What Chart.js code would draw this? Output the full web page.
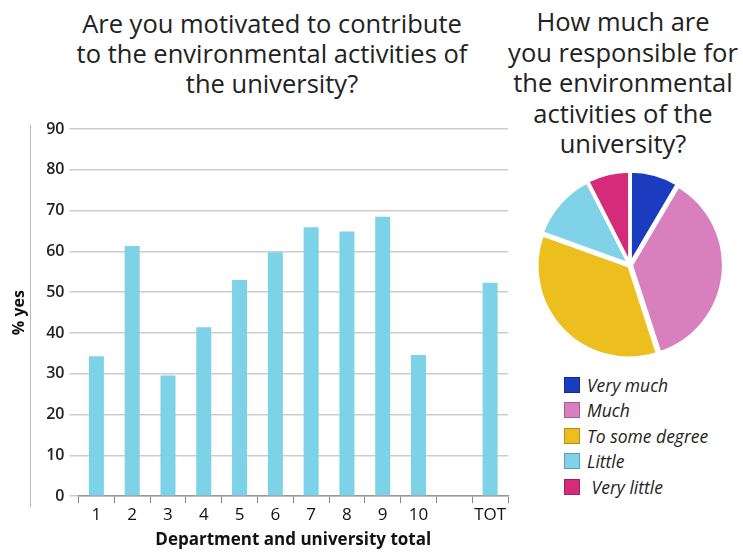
<!DOCTYPE html>
<html>
<head>
<meta charset="utf-8">
<script src="https://cdn.jsdelivr.net/npm/chart.js@4"></script>
<style>
  body { margin: 0; background: #fff; width: 743px; height: 554px; position: relative; overflow: hidden; font-family: "Open Sans", sans-serif; color: #222; }
  .title { position: absolute; text-align: center; font-size: 25.5px; }
  #barTitle { left: 62px; width: 420px; top: 8px; line-height: 30px; }
  #pieTitle { left: 498px; width: 250px; top: 6px; line-height: 30.5px; }
  #barWrap { position: absolute; left: 0; top: 110px; width: 520px; height: 444px; }
  #pieWrap { position: absolute; left: 534px; top: 165px; width: 192px; height: 200px; }
  #sideLine { position: absolute; left: 30px; top: 125px; width: 1px; height: 382px; background: #bbb; }
  #legend { position: absolute; left: 564px; top: 372px; list-style: none; margin: 0; padding: 0; }
  #legend li { height: 25.5px; font-size: 17.5px; font-style: italic; display: flex; align-items: center; }
  #legend span.box { display: inline-block; width: 16px; height: 16px; margin-right: 7px; box-sizing: border-box; border: 1px solid rgba(0,0,0,0.25); }
</style>
</head>
<body>
<div id="barTitle" class="title">Are you motivated to contribute<br>to the environmental activities of<br>the university?</div>
<div id="pieTitle" class="title">How much are<br>you responsible for<br>the environmental<br>activities of the<br>university?</div>
<div id="sideLine"></div>
<div id="barWrap"><canvas id="barChart"></canvas></div>
<div id="pieWrap"><canvas id="pieChart"></canvas></div>
<ul id="legend"></ul>
<script>
// bar chart: % yes per department, empty slot before the total
const departments = ['1', '2', '3', '4', '5', '6', '7', '8', '9', '10', '', 'TOT'];
const yesPercent = [34.3, 61.3, 29.6, 41.4, 53.0, 59.8, 65.9, 64.9, 68.5, 34.6, null, 52.3];
const yTicks = [0, 10, 20, 30, 40, 50, 60, 70, 80, 90];

// pie chart: level of responsibility
const levels = ['Very much', 'Much', 'To some degree', 'Little', ' Very little'];
const levelShare = [8.5, 36.5, 35.5, 12, 7.5];
const levelColors = ['#1b3cbf', '#d880bd', '#ecbf1e', '#80d2e8', '#d42c78'];

new Chart(document.getElementById('barChart'), {
    type: 'bar',
    data: {
        labels: departments,
        datasets: [{
            data: yesPercent,
            backgroundColor: 'rgb(125, 210, 232)',
            categoryPercentage: 1,
            barPercentage: 0.42
        }]
    },
    options: {
        responsive: true,
        maintainAspectRatio: false,
        animation: false,
        layout: { padding: { left: 6, right: 12, top: 19, bottom: 0 } },
        plugins: { legend: { display: false }, tooltip: { enabled: false } },
        scales: {
            x: {
                grid: { offset: true, drawOnChartArea: false, tickLength: 7, color: '#888' },
                border: { color: '#999', width: 1.5 },
                ticks: { color: '#111', font: { family: 'Open Sans', size: 17 }, padding: 2, maxRotation: 0, minRotation: 0, autoSkip: false },
                title: {
                    display: true,
                    text: 'Department and university total',
                    color: '#111',
                    font: { family: 'Open Sans', size: 17, weight: 'bold' },
                    padding: { top: 2 }
                }
            },
            y: {
                min: 0,
                max: 90,
                afterBuildTicks: (axis) => { axis.ticks = yTicks.map(v => ({ value: v })); },
                grid: { color: 'rgba(0,0,0,0.2)', lineWidth: 1.5, tickLength: 9 },
                border: { display: false },
                ticks: { color: '#222', font: { family: 'Open Sans', size: 16, weight: '600' }, padding: 5 },
                title: {
                    display: true,
                    text: '% yes',
                    color: '#111',
                    font: { family: 'Open Sans', size: 16, weight: 'bold' },
                    padding: { bottom: 12 }
                }
            }
        }
    }
});

new Chart(document.getElementById('pieChart'), {
    type: 'pie',
    data: {
        labels: levels,
        datasets: [{
            data: levelShare,
            backgroundColor: levelColors,
            borderColor: '#fff',
            borderWidth: 3,
            offset: 6
        }]
    },
    options: {
        responsive: true,
        maintainAspectRatio: false,
        animation: false,
        plugins: { legend: { display: false }, tooltip: { enabled: false } }
    }
});

// legend built from the same arrays
const legendEl = document.getElementById('legend');
levels.forEach((name, i) => {
    const li = document.createElement('li');
    li.innerHTML = '<span class="box" style="background:' + levelColors[i] + '"></span>' + name.replace(/^ /, '&nbsp;');
    legendEl.appendChild(li);
});
</script>
</body>
</html>
